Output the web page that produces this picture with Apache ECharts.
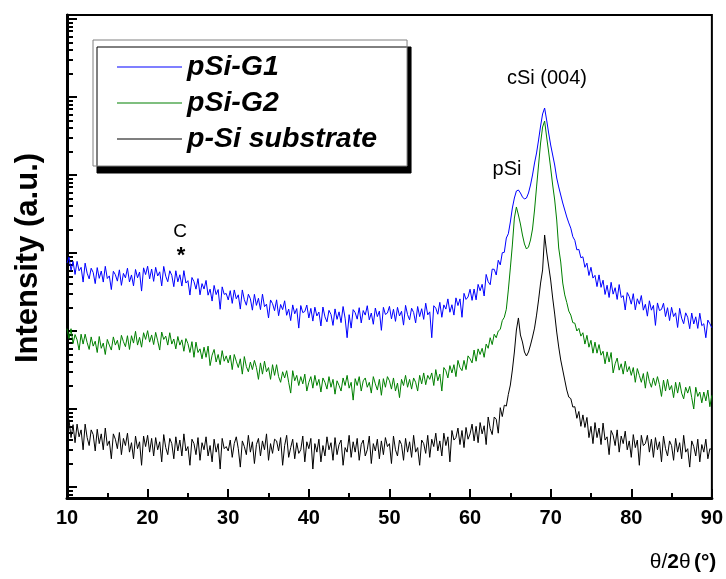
<!DOCTYPE html>
<html><head><meta charset="utf-8">
<script src="https://cdn.jsdelivr.net/npm/echarts@6/dist/echarts.min.js"></script>
<style>html,body{margin:0;padding:0;background:#fff}#c{width:726px;height:579px}</style>
</head><body><div id="c"></div>
<script>
// sampling grid of the diffractogram (degrees 2theta)
const thetaStart = 10, thetaStep = 0.25;
const seriesNames = ['pSi-G1', 'pSi-G2', 'p-Si substrate'];
const xTicks = [10, 20, 30, 40, 50, 60, 70, 80, 90];
const yDecades = [1, 10, 100, 1000, 10000, 100000, 1000000];
const yMinorMult = [2, 3, 4, 5, 6, 7, 8, 9];

const pSiG1 = [
745,888,599,781, 531,781,592,655, 424,741,551,466, 638,562,405,650, 473,587,424,675,
471,509,340,583, 527,436,608,385, 548,480,639,426, 523,379,615,481, 570,325,645,529,
677,466,622,433, 655,507,574,379, 673,504,428,592, 517,370,592,427, 526,377,594,412,
442,289,485,430, 344,470,291,405, 345,445,288,344, 242,384,293,340, 190,368,295,303,
250,329,226,336, 259,291,191,336, 252,214,296,259, 185,295,213,263, 188,297,205,221,
147,250,224,182, 251,157,219,188, 244,159,191,136, 216,166,194,109, 212,172,178,215,
147,195,134,202, 156,175,116,203, 152,131,184,163, 118,192,141,176, 128,206,146,82,
162,109,188,172, 142,199,127,183, 160,211,139,170, 122,197,153,180, 102,201,163,170,
207,143,190,133, 201,156,179,119, 213,162,139,196, 173,127,206,153, 193,141,227,161,
176,82,211,196, 164,233,150,216, 191,258,174,217, 160,266,212,258, 150,304,254,273,
343,247,345,251, 396,328,397,281, 531,428,392,621, 618,522,807,704, 1008,1021,1556,1765,
2496,3776,5070,6235, 6420,5880,5230,4920, 5070,5880,7440,10000, 14250,19150,28100,42460, 60540,72200,50720,34550,
24250,18040,13430,9150, 7020,5540,4375,3558, 2895,2430,2080,1620, 1452,1098,1112,870, 894,656,741,515,
656,477,517,371, 524,363,448,294, 386,269,421,297, 359,254,394,269, 284,186,311,276,
221,301,187,259, 221,285,185,220, 155,244,185,213, 118,229,183,189, 227,153,199,136,
201,153,171,111, 195,146,124,171, 150,107,170,123, 152,108,169,117, 124,82,138,124,
110];

const pSiG2 = [
107,80,107,69, 90,77,57,91, 68,91,71,58, 84,64,74,53, 85,60,70,50,
78,66,57,84, 66,76,57,88, 73,63,87,58, 87,70,99,66, 83,62,95,78,
101,72,89,67, 96,75,57,97, 78,86,66,95, 68,79,59,85, 66,77,55,80,
69,53,73,46, 72,53,59,44, 62,46,64,36, 49,58,40,50, 37,56,41,48,
39,49,32,50, 41,34,44,28, 47,35,30,40, 32,42,34,24, 39,28,41,30,
34,24,37,27, 37,26,22,30, 25,31,22,16, 31,23,27,20, 26,21,28,17,
22,26,18.5,27, 20,24,16.5,25, 22,18,26,19, 24,15.5,23,20, 17,25,20,27,
18.5,22,13,24.5, 20,26,17,23, 25,19,22,16, 26,21,17.5,24, 15,24.5,19,26,
23,18,25,17, 21.5,14,24,20, 27,19,24,18, 25,22,17,27, 21,29,20.5,27,
24,29,20,32, 23,28,17,34, 31,25,36,29, 37,26,42,34, 31,42,32,48,
44,39,57,41, 59,50,60,46, 68,60,82,67, 91,82,100,105, 136,150,190,336,
643,1267,2810,3890, 3070,2355,1702,1305, 1125,1194,1468,2030, 3558,7020,13430,25700, 41200,49200,30700,19700,
12300,7440,4779,2649, 1159,767,412,290, 232,180,160,128, 126,100,108,86, 95,68,88,62,
76,52,72,52, 67,49,55,38, 54,40,53,29, 38,45,31.5,38, 28,41,30,35,
27,34,22,33, 27,22,28.5,18.5, 30,22.5,19,25, 20,26,20.5,14.5, 23.5,17,24,17.5,
20,14,22,16, 22,16,13.5,19, 16,19.5,14,10, 19,14.5,16.5,12, 16.5,12.7,17.5,10.7,
15];

const substrate = [
5.7,7.3,4.3,6.3, 3.7,6.4,4.4,5.4, 3.0,6.4,4.3,3.4, 5.4,4.7,2.9,5.5, 3.6,4.8,3.0,5.7,
3.4,3.9,2.3,4.8, 4.1,3.1,5.0,2.6, 4.2,3.4,4.9,2.8, 3.7,2.3,4.5,3.1, 3.8,1.9,4.5,3.3,
4.6,2.8,4.2,2.5, 4.3,3.0,3.8,2.1, 4.7,3.2,2.6,4.2, 3.6,2.3,4.4,2.9, 4.0,2.5,4.8,2.9,
3.3,1.9,4.1,3.6, 2.6,4.3,2.2,3.7, 3.0,4.4,2.5,3.4, 2.1,4.1,2.8,3.6, 1.7,4.2,3.1,3.3,
2.9,4.0,2.4,3.6, 4.4,3.1,1.8,3.9, 3.3,2.6,4.6,2.8, 3.8,2.0,3.5,4.2, 2.5,3.9,3.0,4.8,
2.2,3.6,2.7,4.1, 3.9,2.9,4.3,1.9, 3.4,4.6,2.4,3.2, 4.1,2.3,3.7,2.7, 3.0,4.5,2.1,3.8,
3.1,4.2,1.7,3.6, 2.8,4.1,2.1,3.4, 2.5,4.4,3.0,3.7, 2.2,4.3,2.6,3.5, 4.0,1.9,3.2,2.8,
4.6,2.4,3.8,2.8, 4.2,2.2,3.5,4.0, 2.5,3.0,4.5,2.0, 3.6,2.9,4.1,2.3, 3.9,2.6,4.3,3.3,
3.6,2.0,4.5,3.0, 2.5,4.0,3.5,2.2, 4.2,2.8,3.8,2.4, 4.6,2.8,3.2,1.9, 4.0,3.6,2.7,4.6,
2.4,4.1,3.3,4.9, 2.9,3.9,2.5,4.9, 3.4,4.4,2.1,5.3, 4.0,4.3,5.7,3.5, 5.3,3.2,5.8,4.1,
4.8,6.4,3.9,6.0, 3.7,6.7,4.8,6.1, 3.5,7.9,5.6,4.7, 7.9,7.4,4.9,10.4, 8.0,11.2,10.9,15.4,
20.3,31.6,53.8,103, 147,88.9,72.3,53.8, 47.8,53.8,66.2,83.8, 109,160,250,412, 606,1702,1030,681,
451,265,165,97, 62.4,42.5,31.6,23.5, 17.5,14.2,13.6,10.6, 10.7,7.6,9.3,6.0, 8.4,5.8,7.8,4.3,
6.0,3.6,6.7,4.3, 5.7,3.5,6.6,4.0, 4.4,2.6,5.3,4.6, 3.4,5.4,2.8,4.5, 3.6,5.2,3.0,3.9,
2.4,4.7,3.2,4.0, 1.9,4.6,3.4,3.6, 4.6,2.8,4.1,2.4, 4.3,3.0,3.8,2.1, 4.5,3.1,2.5,3.9,
3.4,2.2,4.2,2.8, 3.7,2.3,4.6,2.8, 3.1,1.8,3.9,3.3, 2.5,4.1,2.1,3.5, 2.8,4.1,2.3,3.1,
3.0];

const peakLabels = ['C', '*', 'pSi', 'cSi (004)'];

const FONT = '"Liberation Sans", Arial, sans-serif';
const pairs = arr => arr.map((v, i) => [thetaStart + i * thetaStep, v]);
const yMinor = [];
[0.1].concat(yDecades).forEach(d => yMinorMult.forEach(m => yMinor.push(+(d * m).toPrecision(3))));

const yMin = 0.723, yMax = 1.125e6;
const chart = echarts.init(document.getElementById('c'), null, {renderer: 'canvas'});
chart.setOption({
  animation: false,
  backgroundColor: '#fff',
  grid: {left: 67, right: 13, top: 15, bottom: 81, show: true, borderColor: '#000', borderWidth: 2, backgroundColor: 'transparent'},
  xAxis: {
    type: 'value', min: 10, max: 90, interval: 10,
    axisLine: {show: true, lineStyle: {color: '#000', width: 3}},
    axisTick: {show: true, inside: true, length: 9, lineStyle: {color: '#000', width: 2}},
    minorTick: {show: true, splitNumber: 2, length: 5, lineStyle: {color: '#000', width: 2}},
    axisLabel: {color: '#000', fontFamily: FONT, fontWeight: 'bold', fontSize: 20, margin: 10,
      customValues: xTicks},
    splitLine: {show: false}, minorSplitLine: {show: false}
  },
  yAxis: [{
    type: 'log', min: yMin, max: yMax,
    axisLine: {show: true, lineStyle: {color: '#000', width: 3}},
    axisTick: {show: true, inside: true, length: 10, customValues: yDecades, lineStyle: {color: '#000', width: 2}},
    axisLabel: {show: false}, splitLine: {show: false}
  }, {
    type: 'log', min: yMin, max: yMax, position: 'left',
    axisLine: {show: false},
    axisTick: {show: true, inside: true, length: 6, customValues: yMinor, lineStyle: {color: '#000', width: 2}},
    axisLabel: {show: false}, splitLine: {show: false}
  }],
  legend: {
    orient: 'vertical', left: 93, top: 40, selectedMode: false,
    data: seriesNames, icon: 'rect',
    backgroundColor: '#fff', borderColor: '#808080', borderWidth: 1,
    shadowColor: '#000', shadowBlur: 0, shadowOffsetX: 4, shadowOffsetY: 7,
    padding: [12, 30, 12, 24], itemGap: 6, itemWidth: 65, itemHeight: 1,
    textStyle: {fontFamily: FONT, fontWeight: 'bold', fontStyle: 'italic', fontSize: 28.5, lineHeight: 30, color: '#000'}
  },
  series: [
    {name: seriesNames[0], type: 'line', data: pairs(pSiG1), symbol: 'none', lineStyle: {color: '#0000ff', width: 1}, itemStyle: {color: '#0000ff'}, z: 3},
    {name: seriesNames[1], type: 'line', data: pairs(pSiG2), symbol: 'none', lineStyle: {color: '#008000', width: 1}, itemStyle: {color: '#008000'}, z: 3},
    {name: seriesNames[2], type: 'line', data: pairs(substrate), symbol: 'none', lineStyle: {color: '#000000', width: 1}, itemStyle: {color: '#000000'}, z: 3}
  ],
  graphic: [
    {type: 'text', x: 28, y: 258, rotation: Math.PI / 2,
      style: {text: 'Intensity (a.u.)', font: 'bold 31px ' + FONT, fill: '#000', align: 'center', verticalAlign: 'middle'}},
    {type: 'text', x: 683, y: 562,
      style: {text: '{a|θ/}{b|2}{a|θ} {b|(°)}', align: 'center', verticalAlign: 'middle',
        rich: {a: {font: '21px ' + FONT, fill: '#000'}, b: {font: 'bold 21px ' + FONT, fill: '#000'}}}},
    {type: 'text', x: 180, y: 232, style: {text: peakLabels[0], font: '19px ' + FONT, fill: '#000', align: 'center', verticalAlign: 'middle'}},
    {type: 'text', x: 181, y: 256, style: {text: peakLabels[1], font: 'bold 22px ' + FONT, fill: '#000', align: 'center', verticalAlign: 'middle'}},
    {type: 'text', x: 507, y: 169, style: {text: peakLabels[2], font: '20px ' + FONT, fill: '#000', align: 'center', verticalAlign: 'middle'}},
    {type: 'text', x: 547, y: 78, style: {text: peakLabels[3], font: '20px ' + FONT, fill: '#000', align: 'center', verticalAlign: 'middle'}}
  ]
});
</script></body></html>
